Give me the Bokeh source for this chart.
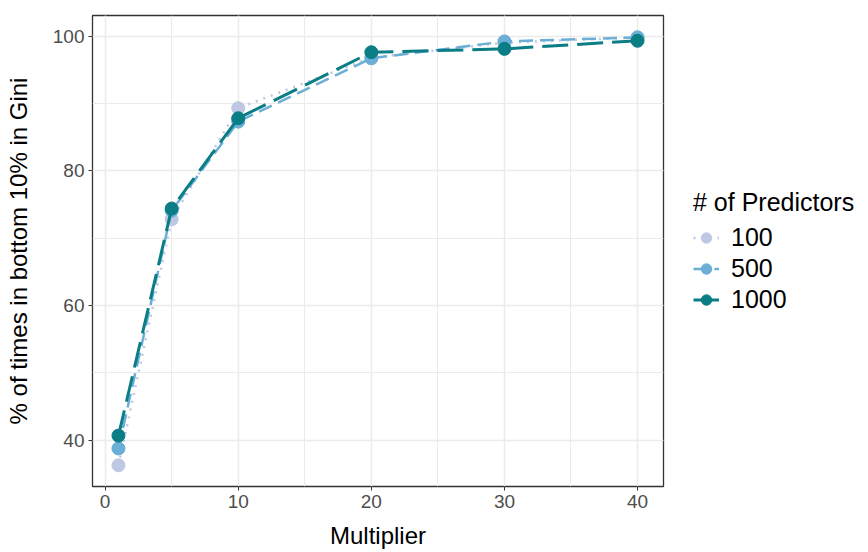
from bokeh.plotting import figure
from bokeh.models import Legend, LegendItem, Range1d, SingleIntervalTicker
from bokeh.embed import file_html
from bokeh.resources import INLINE

# Multiplier values on the x axis
multiplier = [1, 5, 10, 20, 30, 40]

# % of times in bottom 10% in Gini, one list per number of predictors
pct_100 = [36.3, 72.8, 89.3, 96.8, 99.0, 99.8]
pct_500 = [38.8, 74.1, 87.3, 96.7, 99.2, 99.8]
pct_1000 = [40.7, 74.4, 87.8, 97.6, 98.1, 99.3]

series_labels = ["100", "500", "1000"]
series_values = [pct_100, pct_500, pct_1000]
series_colors = ["#bfc8e2", "#6baed6", "#0b7d84"]
series_dashes = ["2 6", "14 7", "26 9"]
series_widths = [2.5, 2.5, 3]

FONT = "Liberation Sans"

p = figure(
    frame_width=571, frame_height=471,
    output_backend="svg", toolbar_location=None,
    x_range=Range1d(-0.95, 41.95), y_range=Range1d(33.15, 103.05),
    min_border_left=92, min_border_right=205,
    min_border_top=15, min_border_bottom=66,
)

p.background_fill_color = "white"
p.border_fill_color = "white"
p.outline_line_color = "#333333"
p.outline_line_width = 1.3

# Axes and ticks
p.xaxis.ticker = SingleIntervalTicker(interval=10, num_minor_ticks=2)
p.yaxis.ticker = SingleIntervalTicker(interval=20, num_minor_ticks=2)
for ax in (p.xaxis[0], p.yaxis[0]):
    ax.axis_line_color = None
    ax.major_tick_in = 0
    ax.major_tick_out = 4
    ax.major_tick_line_color = "#333333"
    ax.minor_tick_in = 0
    ax.minor_tick_out = 0
    ax.major_label_text_font = FONT
    ax.major_label_text_font_size = "19px"
    ax.major_label_text_color = "#4d4d4d"
    ax.major_label_standoff = 4
    ax.axis_label_text_font = FONT
    ax.axis_label_text_font_size = "24px"
    ax.axis_label_text_font_style = "normal"
    ax.axis_label_text_color = "black"

p.xaxis.axis_label = "Multiplier"
p.xaxis.axis_label_standoff = 11
p.yaxis.axis_label = "% of times in bottom 10% in Gini"
p.yaxis.axis_label_standoff = 18

# Grid
for g in (p.xgrid[0], p.ygrid[0]):
    g.grid_line_color = "#ebebeb"
    g.grid_line_width = 1.5
    g.minor_grid_line_color = "#ebebeb"
    g.minor_grid_line_width = 1

# Lines and points, drawn from 100 up to 1000
items = []
for label, vals, color, dash, lw in zip(series_labels, series_values,
                                         series_colors, series_dashes, series_widths):
    ln = p.line(multiplier, vals, line_color=color, line_width=lw, line_dash=dash)
    pt = p.scatter(multiplier, vals, size=13, fill_color=color, line_color=color)
    items.append(LegendItem(label=label, renderers=[ln, pt]))

legend = Legend(
    items=items,
    title="# of Predictors",
    location="center_left",
    margin=30, padding=0,
    border_line_color=None,
    background_fill_alpha=0,
    title_text_font=FONT, title_text_font_size="25px",
    title_text_font_style="normal", title_text_color="black",
    title_standoff=6,
    label_text_font=FONT, label_text_font_size="25px", label_text_color="black",
    glyph_width=26, glyph_height=30, label_height=30,
    label_standoff=12, spacing=1,
)
p.add_layout(legend, "right")

open("out.html", "w").write(file_html(p, INLINE))
